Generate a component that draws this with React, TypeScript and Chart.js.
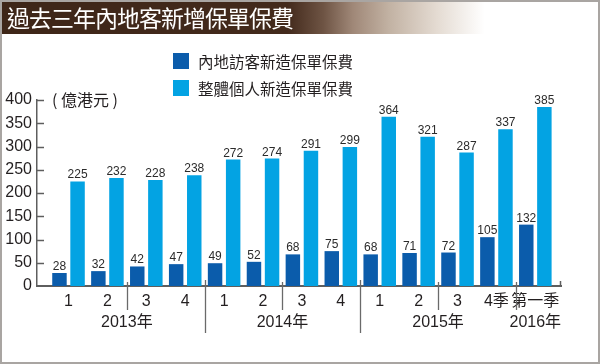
import React, { useEffect, useRef } from "react";
import { Chart, registerables } from "chart.js";

Chart.register(...registerables);

const quarterLabels = ["1", "2", "3", "4", "1", "2", "3", "4", "1", "2", "3", "4季", "第一季"];
const mainlandVisitors = [28, 32, 42, 47, 49, 52, 68, 75, 68, 71, 72, 105, 132];
const allIndividuals = [225, 232, 228, 238, 272, 274, 291, 299, 364, 321, 287, 337, 385];
const yearLabels = ["2013年", "2014年", "2015年", "2016年"];
const yearFirstIndex = [0, 4, 8, 12];
const yearLastIndex = [3, 7, 11, 12];
const yTickValues = [0, 50, 100, 150, 200, 250, 300, 350, 400];
const seriesNames = ["內地訪客新造保單保費", "整體個人新造保單保費"];
// boundaries between quarters (after index) and whether the divider is long
const dividerAfter = [1, 3, 5, 7, 9, 11];
const dividerLong = [false, true, false, true, false, false];

const DARK = "#0b5cab";
const LIGHT = "#03a3e3";
const AXIS = "#5e5e5e";
const TEXT = "#231f20";
const NUM_FONT = '"Liberation Sans", Arial, "Noto Sans CJK TC", sans-serif';
const CJK_FONT = '"Noto Sans CJK TC", "Liberation Sans", sans-serif';

const decor = {
  id: "decor",
  afterDraw(chart: any) {
    const { ctx, chartArea, scales } = chart;
    const x = scales.x;
    const y = scales.y;
    ctx.save();
    ctx.strokeStyle = AXIS;
    ctx.lineWidth = 1.5;
    yTickValues.forEach((v) => {
      if (v === 0) return;
      const py = Math.round(y.getPixelForValue(v)) + 0.5;
      ctx.beginPath();
      ctx.moveTo(chartArea.left, py);
      ctx.lineTo(chartArea.left + 7, py);
      ctx.stroke();
    });
    ctx.beginPath();
    ctx.moveTo(chartArea.right - 0.5, chartArea.bottom);
    ctx.lineTo(chartArea.right - 0.5, chartArea.bottom - 5);
    ctx.stroke();
    ctx.strokeStyle = "#6a6a6a";
    ctx.lineWidth = 1.3;
    dividerAfter.forEach((a, k) => {
      const px = Math.round((x.getPixelForValue(a) + x.getPixelForValue(a + 1)) / 2) + 0.5;
      ctx.beginPath();
      ctx.moveTo(px, chartArea.bottom - (dividerLong[k] ? 6 : 4));
      ctx.lineTo(px, chartArea.bottom + (dividerLong[k] ? 47 : 24));
      ctx.stroke();
    });
    ctx.fillStyle = TEXT;
    ctx.font = "16px " + NUM_FONT;
    ctx.textAlign = "center";
    ctx.textBaseline = "middle";
    yearLabels.forEach((lab, k) => {
      const px = (x.getPixelForValue(yearFirstIndex[k]) + x.getPixelForValue(yearLastIndex[k])) / 2;
      ctx.fillText(lab, px, chartArea.bottom + 37);
    });
    ctx.font = '12px "Liberation Sans Narrow", "Arial Narrow", "Liberation Sans", sans-serif';
    ctx.fillStyle = "#2b2b2b";
    ctx.textBaseline = "alphabetic";
    chart.data.datasets.forEach((ds: any, di: number) => {
      const meta = chart.getDatasetMeta(di);
      meta.data.forEach((bar: any, i: number) => {
        ctx.fillText(String(ds.data[i].y), bar.x, bar.y - 3);
      });
    });
    ctx.restore();
  },
};

export default function App() {
  const ref = useRef<HTMLCanvasElement>(null);
  useEffect(() => {
    const chart = new Chart(ref.current!, {
      type: "bar",
      data: {
        datasets: [
          {
            label: seriesNames[0],
            data: mainlandVisitors.map((v, i) => ({ x: i, y: v })),
            backgroundColor: DARK,
          },
          {
            label: seriesNames[1],
            data: allIndividuals.map((v, i) => ({ x: i, y: v })),
            backgroundColor: LIGHT,
          },
        ],
      },
      options: {
        responsive: false,
        animation: false,
        categoryPercentage: 0.93,
        barPercentage: 0.8,
        layout: { padding: { left: 0, top: 100, right: 39, bottom: 20 } },
        plugins: { legend: { display: false }, tooltip: { enabled: false } },
        scales: {
          x: {
            type: "linear",
            offset: false,
            min: -0.81,
            max: 12.66,
            grid: { display: false, drawTicks: false, offset: false },
            border: { display: true, color: AXIS, width: 2 },
            afterBuildTicks: (scale: any) => {
              scale.ticks = quarterLabels.map((_, i) => ({ value: i }));
            },
            afterFit: (scale: any) => {
              scale.height = 58;
            },
            ticks: {
              autoSkip: false,
              maxRotation: 0,
              padding: 6,
              color: TEXT,
              font: { size: 16, family: NUM_FONT },
              callback: (v: any) => quarterLabels[Math.round(Number(v))],
            },
          },
          y: {
            min: 0,
            max: 400,
            afterBuildTicks: (scale: any) => {
              scale.ticks = yTickValues.map((v) => ({ value: v }));
            },
            afterFit: (scale: any) => {
              scale.width = 37;
            },
            grid: { display: false, drawTicks: false },
            border: { display: true, color: AXIS, width: 1.5 },
            ticks: {
              padding: 5,
              color: TEXT,
              font: { size: 16, family: NUM_FONT },
            },
          },
        },
      },
      plugins: [decor],
    });
    return () => chart.destroy();
  }, []);

  return (
    <div
      style={{
        position: "fixed",
        left: 0,
        top: 0,
        width: 600,
        height: 364,
        background: "#fff",
        overflow: "hidden",
      }}
    >
      <canvas ref={ref} width={600} height={364} style={{ position: "absolute", left: 0, top: 0 }} />
      <div
        style={{
          position: "absolute",
          left: 1,
          top: 1,
          width: 597,
          height: 33,
          background:
            "linear-gradient(to right, #3e2618 0%, #432a1c 48%, #6e5444 54%, #a08878 59%, #c2b2a3 65%, #e4dbd2 73%, #ffffff 81%)",
        }}
      />
      <div
        style={{
          position: "absolute",
          left: 7,
          top: 1,
          height: 33,
          lineHeight: "33px",
          color: "#fff",
          fontFamily: CJK_FONT,
          fontSize: 23,
          letterSpacing: -1,
          whiteSpace: "nowrap",
        }}
      >
        過去三年內地客新增保單保費
      </div>
      <div
        style={{
          position: "absolute",
          left: 52,
          top: 89,
          fontFamily: CJK_FONT,
          fontSize: 16,
          lineHeight: "20px",
          color: TEXT,
          whiteSpace: "pre",
        }}
      >
        ( 億港元 )
      </div>
      {seriesNames.map((name, i) => (
        <div key={name}>
          <div
            style={{
              position: "absolute",
              left: 173,
              top: 53 + i * 27,
              width: 16,
              height: 16,
              background: i === 0 ? DARK : LIGHT,
            }}
          />
          <div
            style={{
              position: "absolute",
              left: 198,
              top: 50 + i * 27,
              fontFamily: CJK_FONT,
              fontSize: 15.5,
              lineHeight: "22px",
              color: TEXT,
              whiteSpace: "nowrap",
            }}
          >
            {name}
          </div>
        </div>
      ))}
      <div
        style={{
          position: "absolute",
          left: 0,
          top: 0,
          width: 600,
          height: 364,
          boxSizing: "border-box",
          border: "2px solid #a9a5a2",
          pointerEvents: "none",
        }}
      />
    </div>
  );
}
